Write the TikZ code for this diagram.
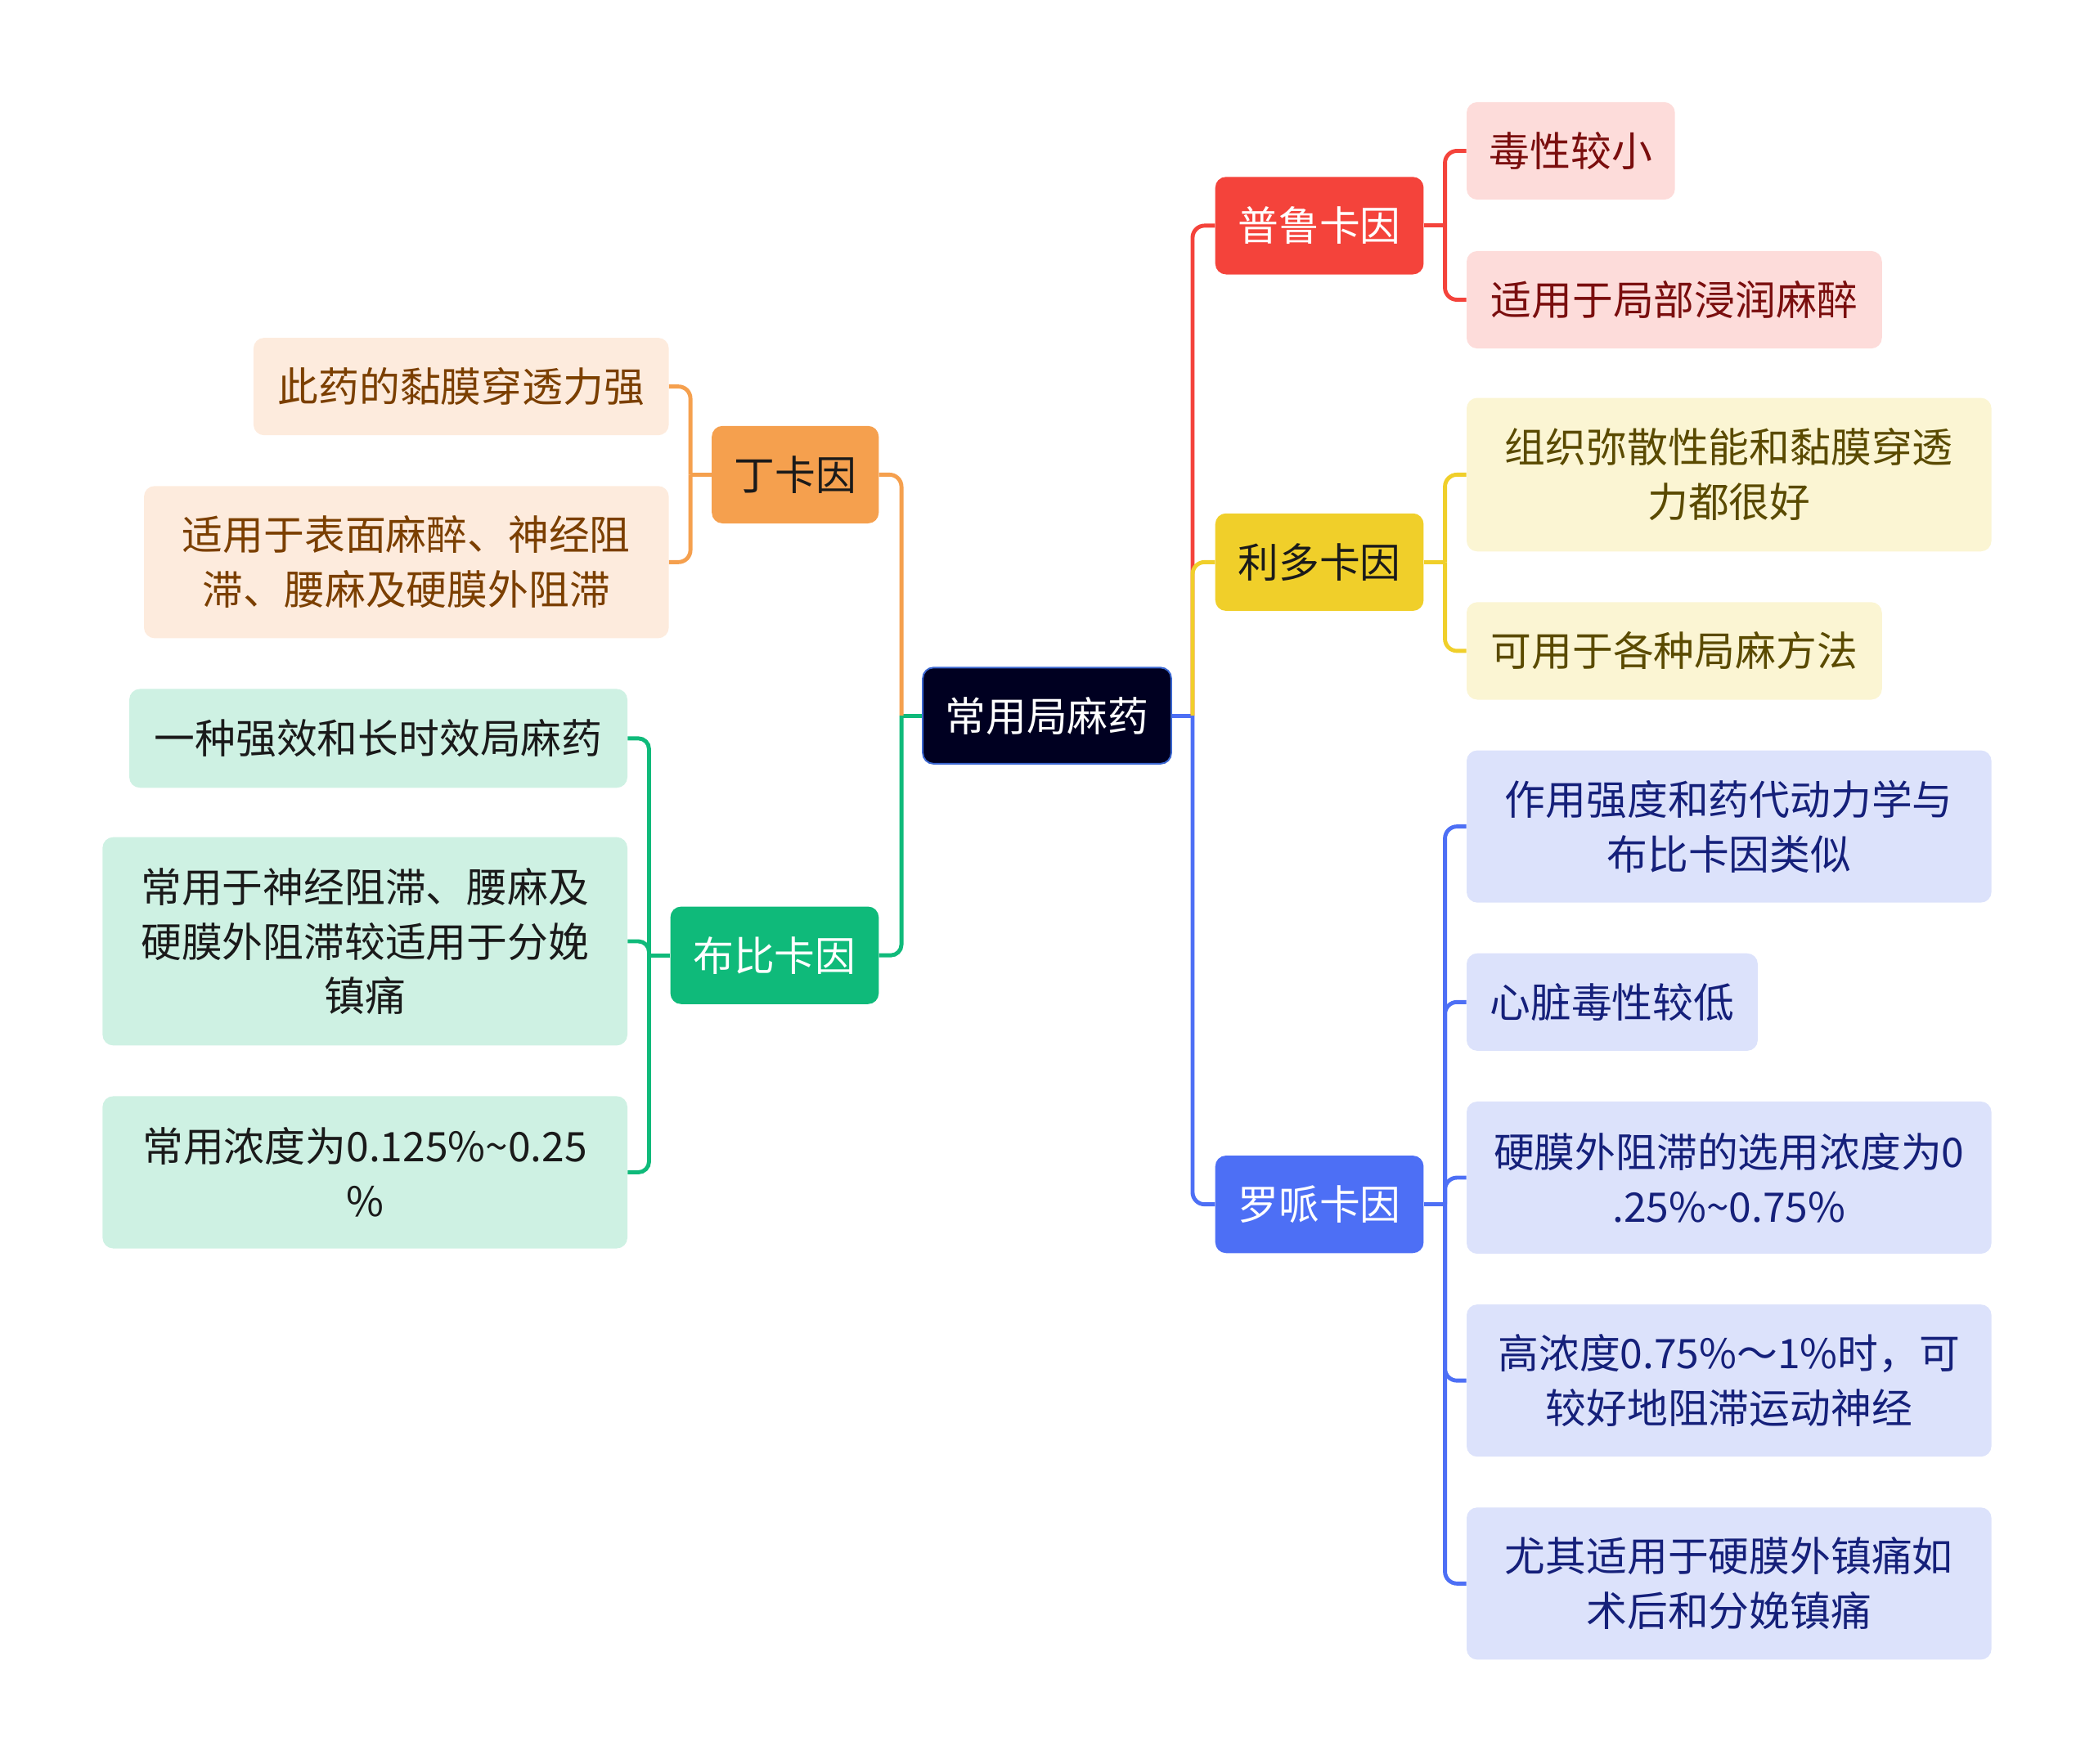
\documentclass[tikz,border=0pt]{standalone}
\usepackage{fontspec}
\setmainfont{Noto Sans CJK SC}
\usetikzlibrary{positioning,calc}
\definecolor{MapNavy}{HTML}{000021}
\definecolor{MapEdge}{HTML}{3A66D0}
\definecolor{MapRed}{HTML}{F4433B}
\definecolor{MapGold}{HTML}{F0CF2A}
\definecolor{MapBlue}{HTML}{4D6FF5}
\definecolor{MapOrange}{HTML}{F5A04E}
\definecolor{MapGreen}{HTML}{0FBA7A}
\definecolor{LeafRed}{HTML}{FDDCDA}
\definecolor{LeafGold}{HTML}{FBF5D3}
\definecolor{LeafBlue}{HTML}{DCE2FB}
\definecolor{LeafOrange}{HTML}{FDEBDD}
\definecolor{LeafGreen}{HTML}{CEF1E3}
\definecolor{InkRed}{HTML}{7A0E0E}
\definecolor{InkGold}{HTML}{5A4A00}
\definecolor{InkBlue}{HTML}{15207A}
\definecolor{InkOrange}{HTML}{7B3F00}
\definecolor{InkDark}{HTML}{1A1A1A}

\begin{document}
\begin{tikzpicture}[
  x=1pt,y=-1pt,
  root/.style={
    rounded corners=8pt,
    line width=1.2pt,
    draw=MapEdge,
    fill=MapNavy,
    text=white,
    align=center,
    minimum width=186pt,
    minimum height=72pt,
    inner sep=0pt,
    font=\fontsize{30.5}{41}\selectfont
  },
  topic/.style={
    rounded corners=8pt,
    draw=none,
    align=center,
    minimum width=156pt,
    minimum height=73pt,
    inner sep=0pt,
    font=\fontsize{30.5}{41}\selectfont
  },
  leaf/.style={
    rounded corners=8pt,
    draw=none,
    align=center,
    minimum height=73pt,
    inner sep=0pt,
    font=\fontsize{30.5}{41}\selectfont
  },
  linkred/.style={line width=3pt,draw=MapRed,rounded corners=9pt},
  linkgold/.style={line width=3pt,draw=MapGold,rounded corners=9pt},
  linkblue/.style={line width=3pt,draw=MapBlue,rounded corners=9pt},
  linkorange/.style={line width=3pt,draw=MapOrange,rounded corners=9pt},
  linkgreen/.style={line width=3pt,draw=MapGreen,rounded corners=8pt}
]
\useasboundingbox (0,0) rectangle (1568,1321);

% -------------------------------------------------
% Centre
% -------------------------------------------------
\node[root] (drug) at (784,536) {常用局麻药};
\coordinate (jright) at (893,536);
\coordinate (jleft) at (675,536);

% -------------------------------------------------
% Right side topics
% -------------------------------------------------
\node[topic, fill=MapRed, text=white] (pulu) at (988,169) {普鲁卡因};
\node[topic, fill=MapGold, text=InkDark] (lido) at (988,421) {利多卡因};
\node[topic, fill=MapBlue, text=white] (ropi) at (988,902) {罗哌卡因};

\draw[linkblue] (drug.east) -- (jright);
\draw[linkred] (jright) |- (pulu.west);
\draw[linkgold] (jright) |- (lido.west);
\draw[linkblue] (jright) |- (ropi.west);

% Procaine
\node[leaf, fill=LeafRed, text=InkRed, minimum width=156pt, anchor=west] (pulu1) at (1098,113) {毒性较小};
\node[leaf, fill=LeafRed, text=InkRed, minimum width=311pt, anchor=west] (pulu2) at (1098,224.5) {适用于局部浸润麻醉};
\coordinate (jpulu) at (1082,169);
\draw[linkred] (pulu.east) -- (jpulu);
\draw[linkred] (jpulu) |- (pulu1.west);
\draw[linkred] (jpulu) |- (pulu2.west);

% Lidocaine
\node[leaf, fill=LeafGold, text=InkGold, minimum width=393pt, minimum height=115pt, anchor=west] (lido1) at (1098,355.5)
  {组织弥散性能和黏膜穿透\\力都很好};
\node[leaf, fill=LeafGold, text=InkGold, minimum width=311pt, anchor=west] (lido2) at (1098,487.5) {可用于各种局麻方法};
\coordinate (jlido) at (1082,421);
\draw[linkgold] (lido.east) -- (jlido);
\draw[linkgold] (jlido) |- (lido1.west);
\draw[linkgold] (jlido) |- (lido2.west);

% Ropivacaine
\node[leaf, fill=LeafBlue, text=InkBlue, minimum width=393pt, minimum height=114pt, anchor=west] (ropi1) at (1098,619)
  {作用强度和药代动力学与\\布比卡因类似};
\node[leaf, fill=LeafBlue, text=InkBlue, minimum width=218pt, anchor=west] (ropi2) at (1098,750.5) {心脏毒性较低};
\node[leaf, fill=LeafBlue, text=InkBlue, minimum width=393pt, minimum height=114pt, anchor=west] (ropi3) at (1098,882)
  {硬膜外阻滞的选用浓度为0\\.25\%\textasciitilde0.75\%};
\node[leaf, fill=LeafBlue, text=InkBlue, minimum width=393pt, minimum height=114pt, anchor=west] (ropi4) at (1098,1034)
  {高浓度0.75\%～1\%时，可\\较好地阻滞运动神经};
\node[leaf, fill=LeafBlue, text=InkBlue, minimum width=393pt, minimum height=114pt, anchor=west] (ropi5) at (1098,1186)
  {尤其适用于硬膜外镇痛如\\术后和分娩镇痛};
\coordinate (jropi) at (1082,902);
\draw[linkblue] (ropi.east) -- (jropi);
\foreach \k in {1,...,5}
  \draw[linkblue] (jropi) |- (ropi\k.west);

% -------------------------------------------------
% Left side topics
% -------------------------------------------------
\node[topic, fill=MapOrange, text=InkDark, minimum width=125pt] (tetra) at (595.5,355.5) {丁卡因};
\node[topic, fill=MapGreen, text=white] (bupi) at (580,715.5) {布比卡因};

\draw[linkgreen] (drug.west) -- (jleft);
\draw[linkorange] (jleft) |- (tetra.east);
\draw[linkgreen] (jleft) |- (bupi.east);

% Tetracaine
\node[leaf, fill=LeafOrange, text=InkOrange, minimum width=311pt, anchor=east] (tetra1) at (501,289.5) {此药的黏膜穿透力强};
\node[leaf, fill=LeafOrange, text=InkOrange, minimum width=393pt, minimum height=114pt, anchor=east] (tetra2) at (501,421)
  {适用于表面麻醉、神经阻\\滞、腰麻及硬膜外阻滞};
\coordinate (jtetra) at (517,355.5);
\draw[linkorange] (tetra.west) -- (jtetra);
\draw[linkorange] (jtetra) |- (tetra1.east);
\draw[linkorange] (jtetra) |- (tetra2.east);

% Bupivacaine
\node[leaf, fill=LeafGreen, text=InkDark, minimum width=373pt, minimum height=74pt, anchor=east] (bupi1) at (470,553) {一种强效和长时效局麻药};
\node[leaf, fill=LeafGreen, text=InkDark, minimum width=393pt, minimum height=156pt, anchor=east] (bupi2) at (470,705)
  {常用于神经阻滞、腰麻及\\硬膜外阻滞较适用于分娩\\镇痛};
\node[leaf, fill=LeafGreen, text=InkDark, minimum width=393pt, minimum height=114pt, anchor=east] (bupi3) at (470,878)
  {常用浓度为0.125\%\textasciitilde0.25\\\%};
\coordinate (jbupi) at (486,715.5);
\draw[linkgreen] (bupi.west) -- (jbupi);
\foreach \k in {1,2,3}
  \draw[linkgreen] (jbupi) |- (bupi\k.east);

\end{tikzpicture}
\end{document}
